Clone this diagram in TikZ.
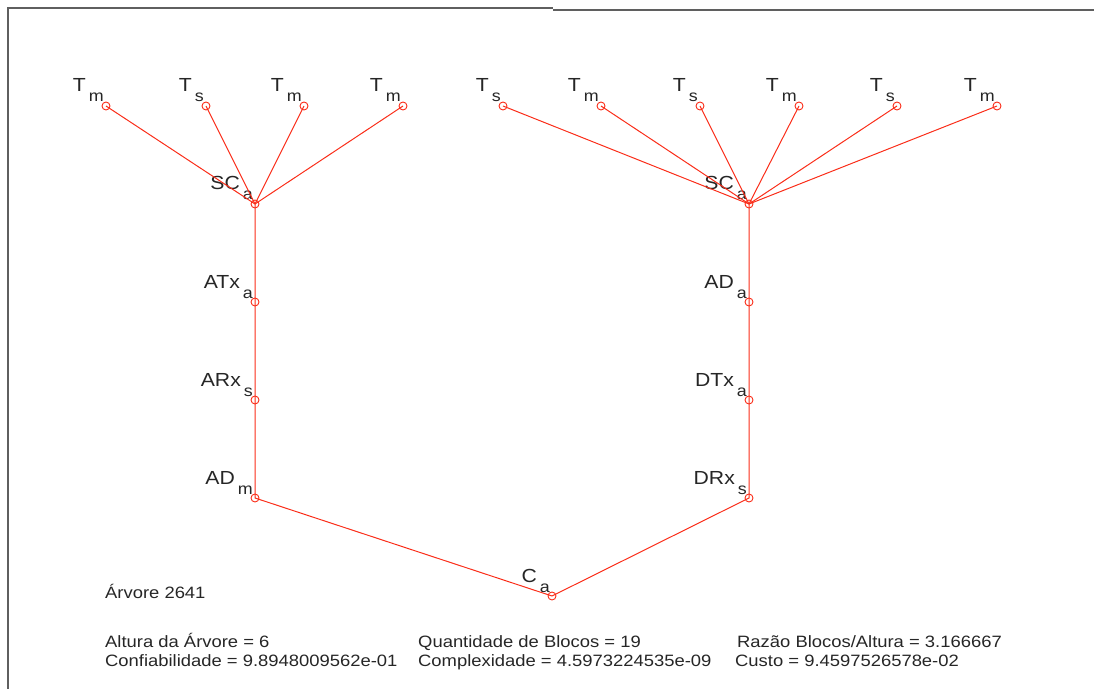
\documentclass[tikz,border=0pt]{standalone}
\usepackage{fontspec}
\setmainfont{Liberation Sans}[FakeStretch=1.12]
\definecolor{mred}{RGB}{250,45,25}
\definecolor{frame}{RGB}{95,95,95}
\newcommand{\lbl}[2]{{\fontsize{19}{19}\selectfont #1}\kern3bp\raisebox{-10bp}{\fontsize{16}{16}\selectfont #2}}
\tikzset{
  blk/.style={circle,draw=mred,line width=0.9bp,inner sep=0pt,minimum size=8bp},
  tag/.style={anchor=base east,inner sep=0pt,text=black!85},
  link/.style={draw=mred,line width=1bp},
  info/.style={anchor=base west,inner sep=0pt,text=black!85,font=\fontsize{16.5}{16.5}\selectfont}
}
% block marker with its label up left
\newcommand{\blkat}[5]{%
  \node[blk] (#1) at (#2,#3) {};
  \node[tag] (#1-l) at ([shift={(-2,-14)}]#1.center) {\lbl{#4}{#5}};}
\begin{document}
\begin{tikzpicture}[x=1bp,y=-1bp]
\useasboundingbox (0,0) rectangle (1094,689);
% frame
\draw[frame,line width=1.5bp] (8,689) -- (8,8) -- (553,8);
\draw[frame,line width=1.5bp] (553,10) -- (1094,10);

% blocks
\blkat{ca}{552}{596}{C}{a}
\blkat{adm}{255}{498}{AD}{m}
\blkat{arx}{255}{400}{ARx}{s}
\blkat{atx}{255}{302}{ATx}{a}
\blkat{scl}{255}{204}{SC}{a}
\blkat{drx}{749}{498}{DRx}{s}
\blkat{dtx}{749}{400}{DTx}{a}
\blkat{ada}{749}{302}{AD}{a}
\blkat{scr}{749}{204}{SC}{a}

\foreach \x/\s [count=\i] in {106/m,206/s,304/m,403/m}
  {\blkat{tl\i}{\x}{106}{T}{\s}}
\foreach \x/\s [count=\i] in {503/s,601/m,700/s,799/m,897/s,997/m}
  {\blkat{tr\i}{\x}{106}{T}{\s}}

% connections
\path[link] (ca.center) -- (adm.center) -- (arx.center) -- (atx.center) -- (scl.center);
\path[link] (ca.center) -- (drx.center) -- (dtx.center) -- (ada.center) -- (scr.center);
\foreach \i in {1,...,4}
  \path[link] (scl.center) -- (tl\i.center);
\foreach \i in {1,...,6}
  \path[link] (scr.center) -- (tr\i.center);

% summary
\node[info] (arv) at (105,598) {Árvore 2641};
\node[info] (alt) at (105,647) {Altura da Árvore = 6};
\node[info] (qtd) at (418,647) {Quantidade de Blocos = 19};
\node[info] (raz) at (737,647) {Razão Blocos/Altura = 3.166667};
\node[info] (con) at (105,666) {Confiabilidade = 9.8948009562e-01};
\node[info] (cpx) at (418,666) {Complexidade = 4.5973224535e-09};
\node[info] (cus) at (735,666) {Custo = 9.4597526578e-02};
\end{tikzpicture}
\end{document}
